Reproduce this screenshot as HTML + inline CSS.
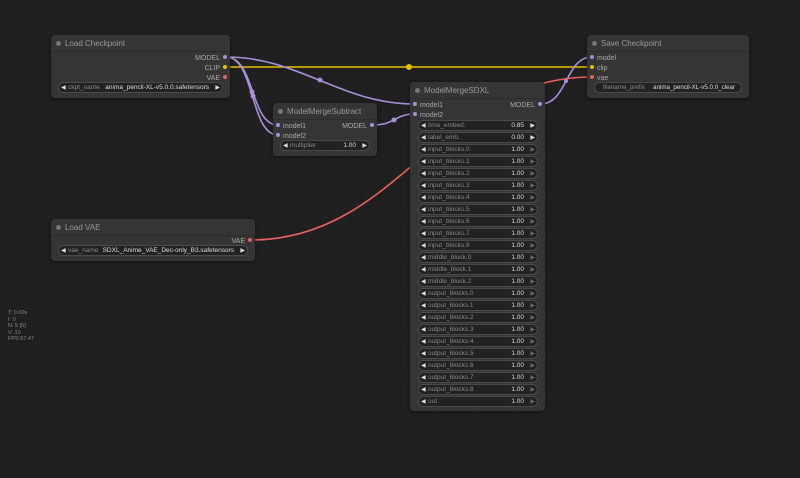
<!DOCTYPE html>
<html><head><meta charset="utf-8"><style>
body{margin:0;width:800px;height:478px;overflow:hidden;background:#202020;
background-image:linear-gradient(#1d1d1d 1px,transparent 1px),linear-gradient(90deg,#1d1d1d 1px,transparent 1px);background-size:10px 10px;
font-family:"Liberation Sans",sans-serif;font-size:7px;color:#aaa;position:relative}
.n{position:absolute;background:#353535;border-radius:4px;box-shadow:0 1px 3px rgba(0,0,0,.5)}
.t{position:absolute;left:0;right:0;top:0;height:16px;border-bottom:1px solid #2c2c2c;color:#999;font-size:8px;line-height:17px;padding-left:14px}
.t:before{content:"";position:absolute;left:5px;top:6px;width:5px;height:5px;border-radius:50%;background:#777}
.s{position:absolute;font-size:7px;color:#aaa;line-height:8px;margin-top:2px}
.d{position:absolute;width:4px;height:4px;border-radius:50%}
.w{position:absolute;height:9px;border:1px solid #4a4a4a;border-radius:6px;background:#222;font-size:6.5px;line-height:10px;color:#888;white-space:nowrap}
.w .l{position:absolute;left:9px}.w .v{position:absolute;right:13px;color:#ddd}
.w:before{content:"◀";position:absolute;left:2px;font-size:6px;color:#ddd}
.w:after{content:"▶";position:absolute;right:2px;font-size:6px;color:#ddd}
.w.g:after{color:#666}
.w.txt:before,.w.txt:after{content:none}
svg{position:absolute;left:0;top:0}
</style></head><body>
<svg width="800" height="478" fill="none" stroke-width="1.6">
<path d="M226,67 L592,67" stroke="#e8c000"/>
<path d="M226,57 C300,57 340,104 415,104" stroke="#a790d8"/>
<path d="M226,57 C255,57 250,125 278,125" stroke="#a790d8"/>
<path d="M226,57 C255,57 250,135 278,135" stroke="#a790d8"/>
<path d="M373,125 C395,125 395,114 415,114" stroke="#a790d8"/>
<path d="M540,104 C568,104 565,57 592,57" stroke="#a790d8"/>
<path d="M251,240 C400,240 440,77 592,77" stroke="#e86060"/>
<g fill="#a790d8" stroke="none"><circle cx="320" cy="80" r="2.5"/><circle cx="252" cy="92" r="2.5"/><circle cx="253" cy="96" r="2.5"/><circle cx="394" cy="120" r="2.5"/><circle cx="566" cy="81" r="2"/></g>
<circle cx="409" cy="67" r="3" fill="#e8c000" stroke="none"/>
</svg>

<div class="n" style="left:51px;top:35px;width:179px;height:63px"><div class="t">Load Checkpoint</div>
<div class="s" style="right:10px;top:18px">MODEL</div><div class="d" style="right:3px;top:20px;background:#a790d8"></div>
<div class="s" style="right:10px;top:28px">CLIP</div><div class="d" style="right:3px;top:30px;background:#e8c000"></div>
<div class="s" style="right:10px;top:38px">VAE</div><div class="d" style="right:3px;top:40px;background:#e86060"></div>
<div class="w" style="left:7px;top:47px;width:163px"><span class="l">ckpt_name</span><span class="v">anima_pencil-XL-v5.0.0.safetensors</span></div></div>

<div class="n" style="left:273px;top:103px;width:104px;height:53px"><div class="t">ModelMergeSubtract</div>
<div class="d" style="left:3px;top:20px;background:#a790d8"></div><div class="s" style="left:10px;top:18px">model1</div>
<div class="d" style="left:3px;top:30px;background:#a790d8"></div><div class="s" style="left:10px;top:28px">model2</div>
<div class="s" style="right:10px;top:18px">MODEL</div><div class="d" style="right:3px;top:20px;background:#a790d8"></div>
<div class="w" style="left:7px;top:37px;width:88px"><span class="l">multiplier</span><span class="v">1.00</span></div></div>

<div class="n" style="left:587px;top:35px;width:162px;height:63px"><div class="t">Save Checkpoint</div>
<div class="d" style="left:3px;top:20px;background:#a790d8"></div><div class="s" style="left:10px;top:18px">model</div>
<div class="d" style="left:3px;top:30px;background:#e8c000"></div><div class="s" style="left:10px;top:28px">clip</div>
<div class="d" style="left:3px;top:40px;background:#e86060"></div><div class="s" style="left:10px;top:38px">vae</div>
<div class="w txt" style="left:7px;top:47px;width:146px;font-size:6.2px"><span class="l" style="left:8px">filename_prefix</span><span class="v" style="right:6px">anima_pencil-XL-v5.0.0_clear</span></div></div>

<div class="n" style="left:51px;top:219px;width:204px;height:42px"><div class="t">Load VAE</div>
<div class="s" style="right:10px;top:17px">VAE</div><div class="d" style="right:3px;top:19px;background:#e86060"></div>
<div class="w" style="left:7px;top:26px;width:188px"><span class="l">vae_name</span><span class="v">SDXL_Anime_VAE_Dec-only_B3.safetensors</span></div></div>

<div class="n" style="left:410px;top:82px;width:135px;height:329px"><div class="t">ModelMergeSDXL</div>
<div class="d" style="left:3px;top:20px;background:#a790d8"></div><div class="s" style="left:10px;top:18px">model1</div>
<div class="d" style="left:3px;top:30px;background:#a790d8"></div><div class="s" style="left:10px;top:28px">model2</div>
<div class="s" style="right:10px;top:18px">MODEL</div><div class="d" style="right:3px;top:20px;background:#a790d8"></div>
<div class="w" style="left:8px;top:38px;width:118px"><span class="l">time_embed.</span><span class="v">0.85</span></div>
<div class="w" style="left:8px;top:50px;width:118px"><span class="l">label_emb.</span><span class="v">0.00</span></div>
<div class="w g" style="left:8px;top:62px;width:118px"><span class="l">input_blocks.0</span><span class="v">1.00</span></div>
<div class="w g" style="left:8px;top:74px;width:118px"><span class="l">input_blocks.1</span><span class="v">1.00</span></div>
<div class="w g" style="left:8px;top:86px;width:118px"><span class="l">input_blocks.2</span><span class="v">1.00</span></div>
<div class="w g" style="left:8px;top:98px;width:118px"><span class="l">input_blocks.3</span><span class="v">1.00</span></div>
<div class="w g" style="left:8px;top:110px;width:118px"><span class="l">input_blocks.4</span><span class="v">1.00</span></div>
<div class="w g" style="left:8px;top:122px;width:118px"><span class="l">input_blocks.5</span><span class="v">1.00</span></div>
<div class="w g" style="left:8px;top:134px;width:118px"><span class="l">input_blocks.6</span><span class="v">1.00</span></div>
<div class="w g" style="left:8px;top:146px;width:118px"><span class="l">input_blocks.7</span><span class="v">1.00</span></div>
<div class="w g" style="left:8px;top:158px;width:118px"><span class="l">input_blocks.8</span><span class="v">1.00</span></div>
<div class="w g" style="left:8px;top:170px;width:118px"><span class="l">middle_block.0</span><span class="v">1.00</span></div>
<div class="w g" style="left:8px;top:182px;width:118px"><span class="l">middle_block.1</span><span class="v">1.00</span></div>
<div class="w g" style="left:8px;top:194px;width:118px"><span class="l">middle_block.2</span><span class="v">1.00</span></div>
<div class="w g" style="left:8px;top:206px;width:118px"><span class="l">output_blocks.0</span><span class="v">1.00</span></div>
<div class="w g" style="left:8px;top:218px;width:118px"><span class="l">output_blocks.1</span><span class="v">1.00</span></div>
<div class="w g" style="left:8px;top:230px;width:118px"><span class="l">output_blocks.2</span><span class="v">1.00</span></div>
<div class="w g" style="left:8px;top:242px;width:118px"><span class="l">output_blocks.3</span><span class="v">1.00</span></div>
<div class="w g" style="left:8px;top:254px;width:118px"><span class="l">output_blocks.4</span><span class="v">1.00</span></div>
<div class="w g" style="left:8px;top:266px;width:118px"><span class="l">output_blocks.5</span><span class="v">1.00</span></div>
<div class="w g" style="left:8px;top:278px;width:118px"><span class="l">output_blocks.6</span><span class="v">1.00</span></div>
<div class="w g" style="left:8px;top:290px;width:118px"><span class="l">output_blocks.7</span><span class="v">1.00</span></div>
<div class="w g" style="left:8px;top:302px;width:118px"><span class="l">output_blocks.8</span><span class="v">1.00</span></div>
<div class="w g" style="left:8px;top:314px;width:118px"><span class="l">out.</span><span class="v">1.00</span></div>
</div>

<div style="position:absolute;left:8px;top:310px;font-size:5.5px;line-height:6.6px;color:#888">T: 0.00s<br>I: 0<br>N: 5 [5]<br>V: 10<br>FPS:57.47</div>
</body></html>
